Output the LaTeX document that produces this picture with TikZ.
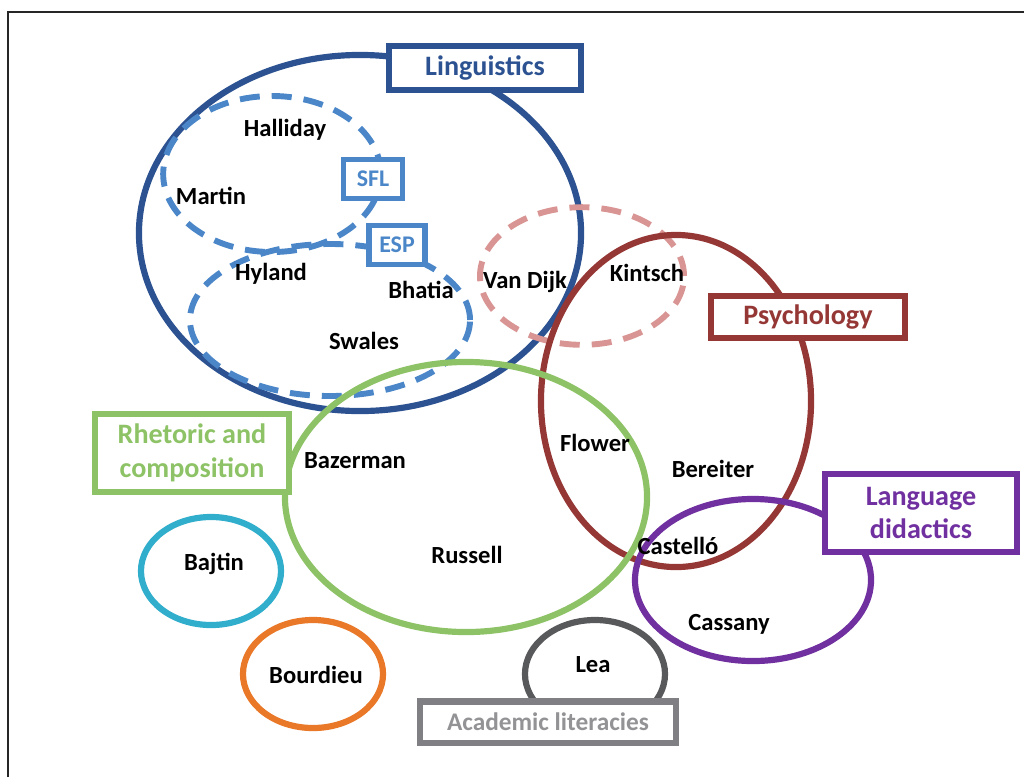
\documentclass[tikz,border=0pt]{standalone}
\usepackage{fontspec}
\setmainfont{Carlito}
\definecolor{lingblue}{RGB}{44,82,145}
\definecolor{sflblue}{RGB}{74,134,200}
\definecolor{vdpink}{RGB}{217,149,148}
\definecolor{psyred}{RGB}{149,55,53}
\definecolor{rhetgreen}{RGB}{141,195,102}
\definecolor{bajcyan}{RGB}{49,174,204}
\definecolor{bourorange}{RGB}{233,120,40}
\definecolor{leagray}{RGB}{88,89,91}
\definecolor{acadgray}{RGB}{128,128,132}
\definecolor{didpurple}{RGB}{112,48,160}
\begin{document}
\begin{tikzpicture}[x=0.025cm,y=-0.025cm,
  ring/.style={line width=4.4pt},
  dashring/.style={line width=4.2pt,dash pattern=on 0.5cm off 0.3cm},
  field/.style={draw=#1,text=#1,fill=white,line width=4.4pt,inner sep=0pt,align=center,font=\fontsize{20}{24}\selectfont\bfseries},
  subfield/.style={draw=sflblue,text=sflblue,fill=white,line width=3.6pt,inner sep=0pt,font=\fontsize{17}{20}\selectfont\bfseries},
  author/.style={font=\fontsize{17.5}{21}\selectfont\bfseries}]
\useasboundingbox (0,0) rectangle (1024,777);
\draw[line width=1.4pt,black!85] (8,777) -- (8,12) -- (1024,12);

% fields
\draw[ring,lingblue] (360,233) ellipse [x radius=5.525cm, y radius=4.45cm];
\draw[dashring,sflblue] (272,174) ellipse [x radius=2.72cm, y radius=1.95cm];
\draw[dashring,sflblue] (330,320) ellipse [x radius=3.5cm, y radius=1.9cm];
\draw[dashring,vdpink] (582,276) ellipse [x radius=2.55cm, y radius=1.72cm];
\draw[ring,psyred] (676,401) ellipse [x radius=3.375cm, y radius=4.15cm];
\draw[ring,rhetgreen] (466,497) ellipse [x radius=4.525cm, y radius=3.375cm];
\draw[ring,didpurple] (753,580) ellipse [x radius=2.95cm, y radius=2.025cm];
\draw[ring,bajcyan] (211,571) ellipse [x radius=1.75cm, y radius=1.35cm];
\draw[ring,bourorange] (313,674) ellipse [x radius=1.75cm, y radius=1.35cm];
\draw[ring,leagray] (595,674) ellipse [x radius=1.75cm, y radius=1.35cm];

\node[field=lingblue,minimum width=4.8cm,minimum height=1.1cm] (ling) at (485,68) {Linguistics};
\node[field=psyred,minimum width=4.83cm,minimum height=1.05cm] (psych) at (808,317) {Psychology};
\node[field=rhetgreen,minimum width=4.83cm,minimum height=1.93cm] (rhet) at (192,453) {Rhetoric and\\composition};
\node[field=didpurple,minimum width=4.8cm,minimum height=1.93cm] (lang) at (921,513) {Language\\didactics};
\node[field=acadgray,text=acadgray!85,minimum width=6.4cm,minimum height=1.03cm,font=\fontsize{18}{22}\selectfont\bfseries] (acad) at (548,722) {Academic literacies};
\node[subfield,minimum width=1.48cm,minimum height=0.98cm] (sfl) at (373,179) {SFL};
\node[subfield,minimum width=1.4cm,minimum height=0.98cm] (esp) at (397,245) {ESP};

% authors
\node[author] (halliday) at (285,130) {Halliday};
\node[author] (martin) at (211,196) {Martin};
\node[author] (hyland) at (271,274) {Hyland};
\node[author] (bhatia) at (421,290) {Bhatia};
\node[author] (swales) at (364,341) {Swales};
\node[author] (vandijk) at (525,282) {Van Dijk};
\node[author] (kintsch) at (647,273) {Kintsch};
\node[author] (flower) at (595,443) {Flower};
\node[author] (bereiter) at (713,469) {Bereiter};
\node[author] (bazerman) at (355,461) {Bazerman};
\node[author] (russell) at (467,555) {Russell};
\node[author] (castello) at (678,546) {Castelló};
\node[author] (cassany) at (729,624) {Cassany};
\node[author] (bajtin) at (214,564) {Bajtin};
\node[author] (bourdieu) at (316,675) {Bourdieu};
\node[author] (lea) at (593,665) {Lea};
\end{tikzpicture}
\end{document}
